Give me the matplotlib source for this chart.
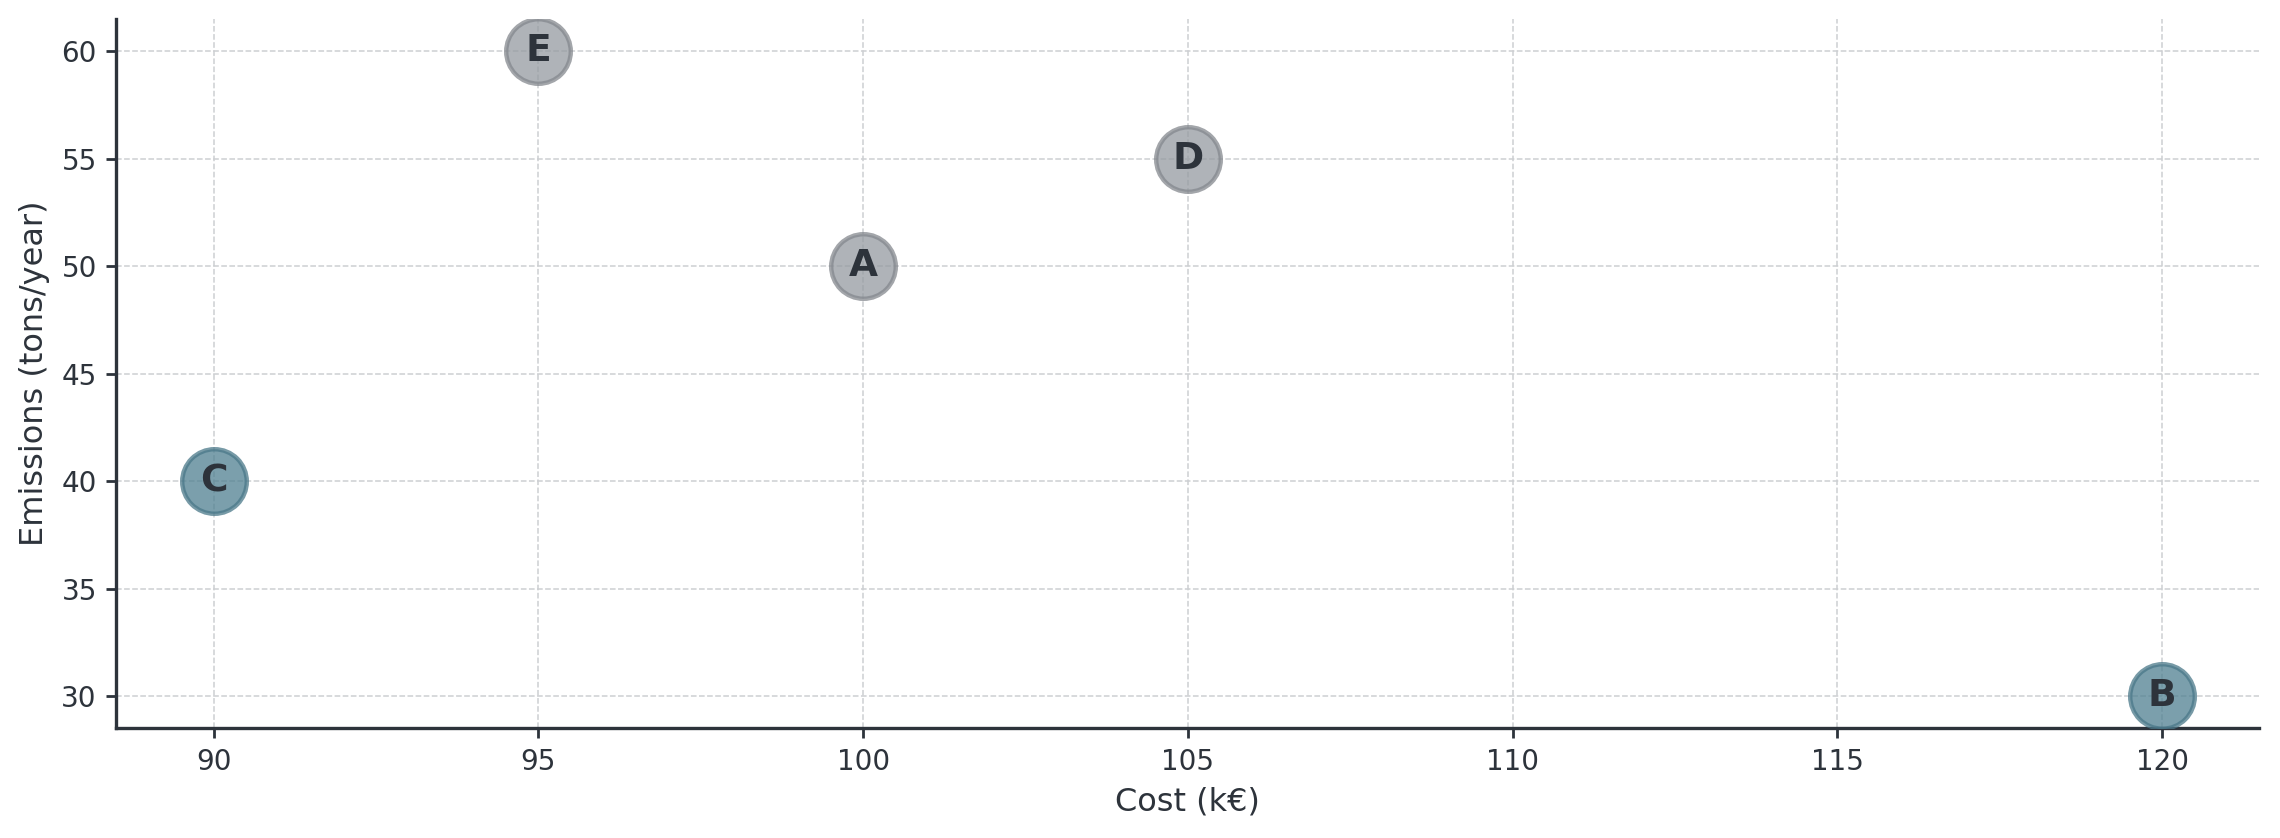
import matplotlib
matplotlib.use("Agg")
import matplotlib.pyplot as plt

# options: cost (k€) vs emissions (tons/year)
labels = ["A", "B", "C", "D", "E"]
cost = [100, 120, 90, 105, 95]
emissions = [50, 30, 40, 55, 60]
pareto = [False, True, True, False, False]

TEXT = "#2d333b"
GRAY_FACE = "#959aa0"
GRAY_EDGE = "#84888e"
TEAL_FACE = "#4f7f90"
TEAL_EDGE = "#4a7889"

fig = plt.figure(figsize=(11.4, 4.19), dpi=200)
ax = fig.add_axes([0.051, 0.131, 0.940, 0.846])

for lab, x, y, p in zip(labels, cost, emissions, pareto):
    face = TEAL_FACE if p else GRAY_FACE
    edge = TEAL_EDGE if p else GRAY_EDGE
    ax.scatter(x, y, s=540, color=face, edgecolors=edge, linewidths=1.6,
               alpha=0.75, zorder=3)
    ax.text(x, y, lab, ha="center", va="center", fontsize=13.5,
            fontweight="bold", color=TEXT, zorder=4)

ax.grid(True, linestyle="--", color="#cdcfd2", linewidth=0.55)
ax.set_axisbelow(True)

ax.set_xticks(range(90, 121, 5))
ax.set_yticks(range(30, 61, 5))
ax.set_xlabel("Cost (k€)", fontsize=11.5, color=TEXT)
ax.set_ylabel("Emissions (tons/year)", fontsize=11.5, color=TEXT)
ax.tick_params(labelsize=10, colors=TEXT, length=3.5, width=1.0)

for side in ["top", "right"]:
    ax.spines[side].set_visible(False)
for side in ["left", "bottom"]:
    ax.spines[side].set_color(TEXT)
    ax.spines[side].set_linewidth(1.2)

fig.savefig("out.png", dpi=200)
